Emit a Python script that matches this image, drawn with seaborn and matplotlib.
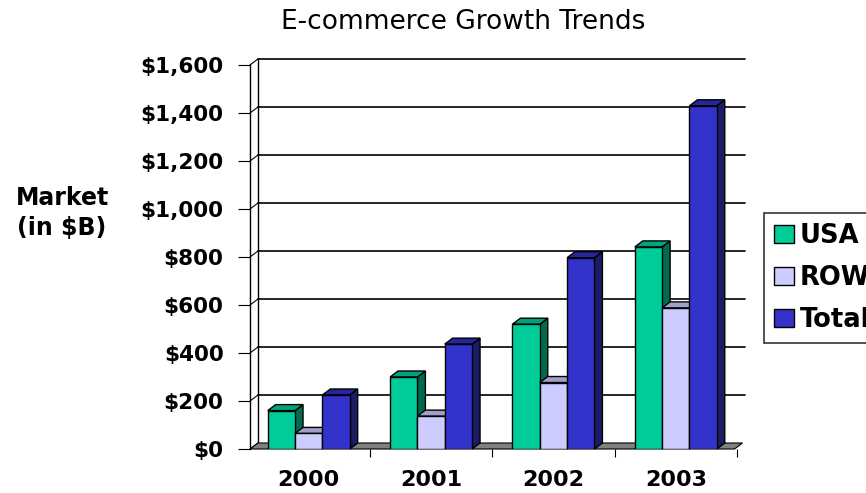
import numpy as np
import pandas as pd
import matplotlib
matplotlib.use('Agg')
import matplotlib.pyplot as plt
import matplotlib.patches as mpatches
from matplotlib.transforms import offset_copy
import seaborn as sns

# dados (bilhoes de dolares)
anos = ['2000', '2001', '2002', '2003']
usa = [160, 300, 520, 842]
row = [65, 137, 277, 588]
total = [225, 437, 797, 1430]
regioes = ['USA', 'ROW', 'Total']
cores = ['#00CC99', '#CCCCFF', '#3333CC']
cores_lado = ['#006B4F', '#8A8AB0', '#1C1C66']
cores_topo = ['#00A47C', '#A0A0C8', '#2525A0']
y_ticks = [0, 200, 400, 600, 800, 1000, 1200, 1400, 1600]

df = pd.DataFrame({
    'ano': anos * 3,
    'valor': usa + row + total,
    'regiao': [r for r in regioes for _ in anos],
})

sns.set_style('white')
plt.rcParams['font.family'] = ['DejaVu Sans']
plt.rcParams['text.color'] = 'black'
plt.rcParams['xtick.color'] = 'black'
plt.rcParams['ytick.color'] = 'black'

fig = plt.figure(figsize=(8.66, 4.93), dpi=100)
ax = fig.add_axes([250 / 866, 44 / 493, 487 / 866, 384 / 493])

sns.barplot(data=df, x='ano', y='valor', hue='regiao', hue_order=regioes,
            palette=cores, width=0.67, edgecolor='black', linewidth=1,
            saturation=1, ax=ax)
handles, labels = ax.get_legend_handles_labels()
ax.get_legend().remove()

ax.set_xlim(-0.48, 3.48)
ax.set_ylim(0, 1600)

# profundidade 3D em pixels -> unidades de dados
DX, DY = 8, 6
inv = ax.transData.inverted()
p0 = inv.transform(ax.transData.transform((0, 0)))
p1 = inv.transform(ax.transData.transform((0, 0)) + np.array([DX, DY]))
dxd, dyd = p1 - p0

# parede do fundo e linhas de grade
grade = offset_copy(ax.get_yaxis_transform(), fig=fig, x=DX, y=DY, units='dots')
for v in y_ticks[1:]:
    ax.plot([0, 1], [v, v], color='black', lw=1.2, transform=grade, clip_on=False, zorder=0.5)
ax.plot([0, 0], [0, 1600], color='black', lw=1, transform=grade, clip_on=False, zorder=0.5)
x0, x1 = ax.get_xlim()
for v in y_ticks:
    ax.plot([x0, x0 + dxd], [v, v + dyd], color='black', lw=0.8, clip_on=False, zorder=0.5)

# chao
chao = mpatches.Polygon([(x0, 0), (x1, 0), (x1 + dxd, dyd), (x0 + dxd, dyd)],
                        closed=True, facecolor='#808080', edgecolor='black', lw=0.8,
                        clip_on=False, zorder=0.8)
ax.add_patch(chao)

# faces laterais e topo das barras
barras = [p for p in ax.patches if isinstance(p, mpatches.Rectangle) and p.get_height() > 0]
barras = sorted(barras, key=lambda p: p.get_x())
z = 1
for p in barras:
    fc = matplotlib.colors.to_hex(p.get_facecolor())
    i = [k for k, c in enumerate(cores) if c.lower() == fc.lower()]
    i = i[0] if i else 0
    bx, bw, bh = p.get_x(), p.get_width(), p.get_height()
    lado = mpatches.Polygon([(bx + bw, 0), (bx + bw, bh), (bx + bw + dxd, bh + dyd), (bx + bw + dxd, dyd)],
                            closed=True, facecolor=cores_lado[i], edgecolor='black', lw=1,
                            clip_on=False, zorder=z)
    topo = mpatches.Polygon([(bx, bh), (bx + bw, bh), (bx + bw + dxd, bh + dyd), (bx + dxd, bh + dyd)],
                            closed=True, facecolor=cores_topo[i], edgecolor='black', lw=1,
                            clip_on=False, zorder=z)
    ax.add_patch(lado)
    ax.add_patch(topo)
    p.set_zorder(z + 0.5)
    z += 1

for s in ['top', 'right', 'bottom']:
    ax.spines[s].set_visible(False)
ax.spines['left'].set_color('black')
ax.spines['left'].set_linewidth(1)

ax.set_yticks(y_ticks)
ax.set_yticklabels([r'\$' + f'{v:,}' for v in y_ticks], fontsize=15.5, fontweight='bold')
ax.tick_params(axis='y', length=9, width=0.8, color='black', direction='out', pad=10, left=True)
ax.set_xticks(range(len(anos)))
ax.set_xticklabels(anos, fontsize=16, fontweight='bold')
ax.tick_params(axis='x', which='major', length=0, pad=15)
ax.set_xticks([0.5, 1.5, 2.5, 3.5], minor=True)
ax.tick_params(axis='x', which='minor', length=6, width=0.8, color='black', direction='out', bottom=True)
ax.set_xlabel('')
ax.set_ylabel('')

fig.text(463 / 866, 1 - 22 / 493, 'E-commerce Growth Trends', ha='center', va='center', fontsize=19)
fig.text(62 / 866, 1 - 213 / 493, 'Market\n(in \\$B)', ha='center', va='center',
         fontsize=17, fontweight='bold', multialignment='center', linespacing=1.35)

leg = fig.legend(handles, labels, loc='upper left', bbox_to_anchor=(764 / 866, 1 - 213 / 493),
                 prop={'size': 18.5, 'weight': 'bold'}, frameon=True, fancybox=False,
                 handlelength=0.75, handleheight=0.7, handletextpad=0.25, borderpad=0.4,
                 labelspacing=0.62, borderaxespad=0)
leg.get_frame().set_edgecolor('black')
leg.get_frame().set_linewidth(1.2)

fig.savefig('out.png', dpi=100)
